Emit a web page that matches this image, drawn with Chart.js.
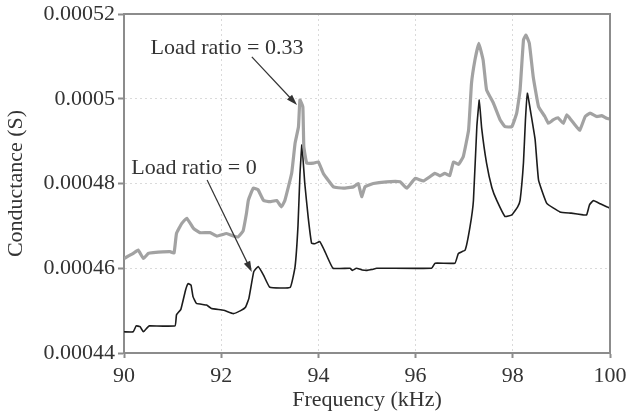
<!DOCTYPE html>
<html>
<head>
<meta charset="utf-8">
<script src="https://cdn.jsdelivr.net/npm/chart.js@4/dist/chart.umd.min.js"></script>
<style>
  html, body { margin: 0; padding: 0; background: #fff; }
  #wrap { width: 627px; height: 417px; }
</style>
</head>
<body>
<div id="wrap"><canvas id="myChart" width="627" height="417"></canvas></div>
<script>
// Load ratio = 0 (thin black line)
var freqLoad0 = [90.00, 90.19, 90.25, 90.33, 90.40, 90.48, 90.52, 91.05, 91.08, 91.17, 91.27, 91.32, 91.38, 91.42, 91.49, 91.70, 91.80, 92.05, 92.25, 92.40, 92.50, 92.57, 92.67, 92.76, 92.87, 93.00, 93.42, 93.52, 93.58, 93.62, 93.66, 93.72, 93.79, 93.86, 93.93, 94.03, 94.12, 94.30, 94.65, 94.70, 94.78, 94.90, 95.00, 95.10, 95.20, 96.33, 96.40, 96.81, 96.88, 97.02, 97.12, 97.19, 97.26, 97.31, 97.36, 97.46, 97.57, 97.67, 97.84, 97.98, 98.10, 98.15, 98.22, 98.26, 98.30, 98.38, 98.46, 98.53, 98.70, 98.97, 99.20, 99.45, 99.52, 99.58, 99.66, 99.80, 99.93, 100.00];
var condLoad0 = [0.0004450, 0.0004450, 0.0004464, 0.0004462, 0.0004450, 0.0004460, 0.0004464, 0.0004464, 0.0004490, 0.0004503, 0.0004550, 0.0004564, 0.0004560, 0.0004533, 0.0004517, 0.0004513, 0.0004505, 0.0004501, 0.0004493, 0.0004500, 0.0004508, 0.0004529, 0.0004592, 0.0004604, 0.0004584, 0.0004555, 0.0004555, 0.0004604, 0.0004700, 0.0004820, 0.0004891, 0.0004800, 0.0004720, 0.0004659, 0.0004658, 0.0004663, 0.0004643, 0.0004600, 0.0004600, 0.0004595, 0.0004600, 0.0004596, 0.0004595, 0.0004597, 0.0004600, 0.0004600, 0.0004612, 0.0004612, 0.0004635, 0.0004643, 0.0004698, 0.0004760, 0.0004934, 0.0004997, 0.0004930, 0.0004848, 0.0004790, 0.0004760, 0.0004722, 0.0004726, 0.0004745, 0.0004760, 0.0004850, 0.0004950, 0.0005013, 0.0004960, 0.0004903, 0.0004808, 0.0004753, 0.0004733, 0.0004730, 0.0004726, 0.0004726, 0.0004750, 0.0004760, 0.0004752, 0.0004745, 0.0004742];

// Load ratio = 0.33 (thick grey line)
var freqLoad033 = [90.00, 90.19, 90.29, 90.40, 90.50, 90.60, 90.95, 91.03, 91.08, 91.19, 91.29, 91.43, 91.56, 91.77, 91.91, 92.11, 92.25, 92.35, 92.45, 92.52, 92.56, 92.66, 92.76, 92.87, 93.00, 93.14, 93.24, 93.31, 93.45, 93.52, 93.59, 93.62, 93.68, 93.70, 93.76, 93.90, 94.00, 94.10, 94.31, 94.51, 94.72, 94.82, 94.89, 94.96, 95.13, 95.40, 95.68, 95.82, 95.99, 96.16, 96.40, 96.50, 96.60, 96.70, 96.78, 96.88, 96.98, 97.09, 97.15, 97.22, 97.30, 97.39, 97.46, 97.60, 97.74, 97.84, 97.98, 98.08, 98.15, 98.22, 98.27, 98.34, 98.42, 98.53, 98.66, 98.73, 98.83, 98.93, 99.04, 99.11, 99.20, 99.31, 99.38, 99.49, 99.59, 99.73, 99.83, 99.93, 100.00];
var condLoad033 = [0.0004623, 0.0004635, 0.0004643, 0.0004623, 0.0004635, 0.0004637, 0.0004639, 0.0004636, 0.0004682, 0.0004706, 0.0004718, 0.0004694, 0.0004684, 0.0004684, 0.0004676, 0.0004682, 0.0004676, 0.0004674, 0.0004688, 0.0004730, 0.0004761, 0.0004789, 0.0004785, 0.0004760, 0.0004757, 0.0004760, 0.0004745, 0.0004760, 0.0004824, 0.0004895, 0.0004934, 0.0004997, 0.0004981, 0.0004887, 0.0004848, 0.0004848, 0.0004851, 0.0004824, 0.0004792, 0.0004789, 0.0004792, 0.0004800, 0.0004769, 0.0004792, 0.0004800, 0.0004804, 0.0004804, 0.0004789, 0.0004812, 0.0004806, 0.0004824, 0.0004818, 0.0004824, 0.0004818, 0.0004851, 0.0004845, 0.0004863, 0.0004926, 0.0005036, 0.0005091, 0.0005131, 0.0005091, 0.0005021, 0.0004990, 0.0004950, 0.0004934, 0.0004934, 0.0004966, 0.0005021, 0.0005139, 0.0005150, 0.0005131, 0.0005052, 0.0004981, 0.0004958, 0.0004942, 0.0004950, 0.0004955, 0.0004942, 0.0004962, 0.0004950, 0.0004934, 0.0004926, 0.0004958, 0.0004966, 0.0004958, 0.0004960, 0.0004954, 0.0004952];

// tick labels
var xTicks = [90, 92, 94, 96, 98, 100];
var yTicks = [0.00044, 0.00046, 0.00048, 0.0005, 0.00052];
var yTickLabels = ['0.00044', '0.00046', '0.00048', '0.0005', '0.00052'];

// arrow labels (data coordinates)
var notes = [
  { text: 'Load ratio = 0.33', x: 92.12, y: 0.000512, from: [92.63, 0.0005099], to: [93.56, 0.0004985] },
  { text: 'Load ratio = 0', x: 91.44, y: 0.0004836, from: [91.71, 0.0004808], to: [92.63, 0.0004591] }
];

function toPoints(xs, ys) {
  return xs.map(function (x, i) { return { x: x, y: ys[i] }; });
}

var serif = '"Liberation Serif", "Times New Roman", serif';

// frame + arrows + labels
var extras = {
  id: 'extras',
  afterDatasetsDraw: function (chart) {
    var ctx = chart.ctx;
    var a = chart.chartArea;
    var sx = chart.scales.x, sy = chart.scales.y;
    ctx.save();
    ctx.strokeStyle = '#8c8c8c';
    ctx.lineWidth = 2;
    ctx.beginPath();
    ctx.moveTo(a.left, a.top);
    ctx.lineTo(a.right, a.top);
    ctx.lineTo(a.right, a.bottom);
    ctx.stroke();

    ctx.fillStyle = '#333';
    ctx.strokeStyle = '#333';
    ctx.lineWidth = 1.2;
    ctx.font = '22px ' + serif;
    ctx.textAlign = 'center';
    ctx.textBaseline = 'middle';
    notes.forEach(function (n) {
      ctx.fillText(n.text, sx.getPixelForValue(n.x), sy.getPixelForValue(n.y));
      var x1 = sx.getPixelForValue(n.from[0]), y1 = sy.getPixelForValue(n.from[1]);
      var x2 = sx.getPixelForValue(n.to[0]), y2 = sy.getPixelForValue(n.to[1]);
      var ang = Math.atan2(y2 - y1, x2 - x1);
      ctx.beginPath();
      ctx.moveTo(x1, y1);
      ctx.lineTo(x2 - 8 * Math.cos(ang), y2 - 8 * Math.sin(ang));
      ctx.stroke();
      ctx.beginPath();
      ctx.moveTo(x2, y2);
      ctx.lineTo(x2 - 11 * Math.cos(ang) + 3.5 * Math.sin(ang), y2 - 11 * Math.sin(ang) - 3.5 * Math.cos(ang));
      ctx.lineTo(x2 - 11 * Math.cos(ang) - 3.5 * Math.sin(ang), y2 - 11 * Math.sin(ang) + 3.5 * Math.cos(ang));
      ctx.closePath();
      ctx.fill();
    });
    ctx.restore();
  }
};

var ctx = document.getElementById('myChart').getContext('2d');
var myChart = new Chart(ctx, {
  type: 'line',
  data: {
    datasets: [{
      label: 'Load ratio = 0.33',
      data: toPoints(freqLoad033, condLoad033),
      borderColor: '#a2a2a2',
      borderWidth: 3.2,
      pointRadius: 0,
      tension: 0.1
    }, {
      label: 'Load ratio = 0',
      data: toPoints(freqLoad0, condLoad0),
      borderColor: '#1c1c1c',
      borderWidth: 1.6,
      pointRadius: 0,
      tension: 0.1
    }]
  },
  options: {
    responsive: false,
    animation: false,
    layout: { padding: { top: 14, right: 17, left: 0, bottom: 0 } },
    plugins: { legend: { display: false }, tooltip: { enabled: false } },
    scales: {
      x: {
        type: 'linear',
        min: 90,
        max: 100,
        afterBuildTicks: function (s) { s.ticks = xTicks.map(function (v) { return { value: v }; }); },
        afterFit: function (s) { s.height = 64; s.paddingLeft = 0; s.paddingRight = 0; },
        ticks: { color: '#333', font: { family: serif, size: 22 }, padding: 5, maxRotation: 0 },
        grid: { color: '#dadada', tickColor: '#8c8c8c', tickLength: 5, tickWidth: 2, tickBorderDash: [] },
        border: { color: '#8c8c8c', width: 2, dash: [2, 3] },
        title: { display: true, text: 'Frequency (kHz)', color: '#333', font: { family: serif, size: 22 }, padding: { top: 0 } }
      },
      y: {
        min: 0.00044,
        max: 0.00052,
        afterBuildTicks: function (s) { s.ticks = yTicks.map(function (v) { return { value: v }; }); },
        afterFit: function (s) { s.width = 124; s.paddingTop = 0; s.paddingBottom = 0; },
        ticks: {
          color: '#333',
          font: { family: serif, size: 22 },
          padding: 3,
          callback: function (v) { return yTickLabels[yTicks.indexOf(v)]; }
        },
        grid: { color: '#dadada', tickColor: '#8c8c8c', tickLength: 6, tickWidth: 2, tickBorderDash: [] },
        border: { color: '#8c8c8c', width: 2, dash: [2, 3] },
        title: { display: true, text: 'Conductance (S)', color: '#333', font: { family: serif, size: 22 }, padding: { top: 3, bottom: 0 } }
      }
    }
  },
  plugins: [extras]
});
</script>
</body>
</html>
